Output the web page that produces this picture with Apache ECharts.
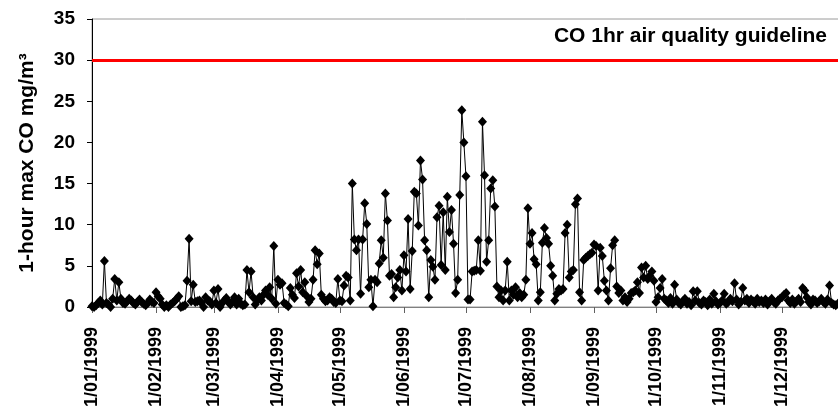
<!DOCTYPE html>
<html>
<head>
<meta charset="utf-8">
<script src="https://cdn.jsdelivr.net/npm/echarts@6/dist/echarts.min.js"></script>
<style>
html,body{margin:0;padding:0;background:#fff;}
#chart{width:838px;height:414px;}
</style>
</head>
<body>
<div id="chart"></div>
<script>
// Month lengths for 1999 and month-start tick labels
const monthDays = [31,28,31,30,31,30,31,31,30,31,30,31];
const tickLabels = ["1/01/1999","1/02/1999","1/03/1999","1/04/1999","1/05/1999","1/06/1999",
                    "1/07/1999","1/08/1999","1/09/1999","1/10/1999","1/11/1999","1/12/1999"];
const guideline = 30;
const guidelineLabel = "CO 1hr air quality guideline";
const yTitle = "1-hour max CO mg/m³";

// Daily 1-hour max CO (mg/m3), one array per month
const jan = [0.1,0.0,0.2,0.5,0.8,0.3,5.6,0.5,0.3,0.0,1.0,3.4,0.8,3.0,1.0,0.5,0.4,0.7,1.0,0.8,0.5,0.3,0.6,0.9,0.6,0.4,0.2,0.5,0.9,0.6,0.5];
const feb = [1.8,1.3,1.0,0.3,0.0,0.2,0.0,0.3,0.5,0.7,1.0,1.3,0.0,0.1,0.2,3.2,8.3,0.7,2.7,0.6,0.7,0.8,0.5,0.0,1.2,0.8,0.7,0.3];
const mar = [2.0,0.5,2.2,0.0,0.5,0.8,1.1,0.6,0.3,0.7,1.2,0.3,1.0,0.4,0.2,0.3,4.5,1.8,4.3,1.2,0.3,0.8,1.2,0.8,1.5,2.0,1.5,2.4,1.0,7.4,0.4];
const apr = [3.3,2.7,2.9,0.5,0.3,0.1,2.3,1.5,1.1,4.1,2.5,4.5,1.8,3.0,1.3,0.6,1.0,3.3,6.9,5.2,6.5,1.5,1.0,0.7,0.8,1.2,1.0,0.6,0.5,3.4];
const may = [0.8,0.7,2.6,3.8,3.6,0.8,15.0,8.2,6.9,8.2,1.6,8.2,12.6,10.1,2.4,3.3,0.1,3.3,3.0,5.3,8.1,6.0,13.8,10.5,3.8,4.0,1.2,2.4,3.6,4.5,2.0];
const jun = [6.3,4.3,10.7,2.2,6.8,14.0,13.8,9.9,17.8,15.5,8.1,6.9,1.2,5.7,4.9,3.3,10.9,12.3,5.1,11.5,4.5,13.4,9.1,11.8,7.7,1.7,3.3,13.6,23.9,20.0];
const jul = [15.9,0.9,0.9,4.3,4.4,4.5,8.1,4.4,22.5,16.0,5.5,8.1,14.4,15.4,12.2,2.5,1.2,2.0,0.8,2.0,5.5,0.8,2.0,1.5,2.4,1.2,1.7,1.2,1.5,3.3,12.0];
const aug = [7.7,9.0,5.8,5.2,0.8,1.8,7.8,9.6,8.4,7.7,5.0,3.8,0.8,1.6,2.2,2.0,2.2,9.0,10.0,3.6,4.3,4.5,12.5,13.2,1.8,0.8,5.7,6.0,6.2,6.4,6.6];
const sep = [7.6,7.4,2.0,7.2,6.2,3.2,2.0,0.8,4.7,7.5,8.1,2.5,1.7,2.0,0.8,1.2,0.6,1.0,1.7,1.8,2.0,3.0,1.7,4.8,3.6,5.0,3.4,3.8,4.3,3.2];
const oct = [0.6,1.2,2.3,3.4,1.0,0.8,0.5,1.1,0.4,2.7,0.9,0.5,0.3,0.7,1.0,0.4,0.6,0.2,1.9,0.8,1.9,0.5,0.3,0.8,0.6,0.2,0.9,0.4,1.6,0.7,0.3];
const nov = [0.5,0.8,1.6,0.4,0.6,1.0,0.7,2.9,0.9,0.3,0.6,2.3,0.8,1.0,0.5,0.9,0.7,0.4,1.0,0.6,0.8,0.5,0.9,0.3,0.7,1.0,0.6,0.4,0.8,1.0];
const dec = [1.2,1.5,1.7,0.8,0.5,0.9,0.4,0.7,1.0,0.6,2.3,2.0,1.2,0.6,0.3,0.9,0.8,0.5,0.7,1.0,0.6,0.4,0.9,2.6,0.5,0.3,0.2,0.4,0.3,0.5,0.2];

const months = [jan,feb,mar,apr,may,jun,jul,aug,sep,oct,nov,dec];
const values = [].concat(...months);

// day categories d/mm/1999
const categories = [];
monthDays.forEach((n, m) => {
  for (let d = 1; d <= n; d++) {
    categories.push(d + "/" + String(m + 1).padStart(2, "0") + "/1999");
  }
});
const tickSet = new Set(tickLabels);
const isTick = (idx, val) => tickSet.has(val !== undefined ? val : categories[idx]);

const chart = echarts.init(document.getElementById('chart'), null, {renderer: 'canvas'});
chart.setOption({
  animation: false,
  backgroundColor: '#ffffff',
  grid: {
    left: 92, right: -6, top: 19, bottom: 107,
    show: true, borderColor: '#9a9a9a', borderWidth: 1,
    containLabel: false, outerBoundsMode: 'none'
  },
  xAxis: {
    type: 'category',
    data: categories,
    boundaryGap: false,
    axisLine: {lineStyle: {color: '#808080', width: 1}},
    axisTick: {show: true, length: 6, interval: (i, v) => isTick(i, v), lineStyle: {color: '#606060'}},
    axisLabel: {
      interval: (i, v) => isTick(i, v),
      rotate: 90,
      margin: 20,
      fontFamily: 'Arial, "Liberation Sans", sans-serif',
      fontWeight: 'bold',
      fontSize: 18,
      color: '#000'
    },
    splitLine: {show: false}
  },
  yAxis: {
    type: 'value',
    min: 0, max: 35, interval: 5,
    name: yTitle,
    nameLocation: 'middle',
    nameGap: 54,
    nameTextStyle: {fontFamily: 'Arial, "Liberation Sans", sans-serif', fontWeight: 'bold', fontSize: 21, color: '#000'},
    axisLine: {show: true, lineStyle: {color: '#000', width: 1}},
    axisTick: {show: true, length: 5, lineStyle: {color: '#000'}},
    axisLabel: {
      margin: 17,
      fontFamily: 'Arial, "Liberation Sans", sans-serif',
      fontWeight: 'bold',
      fontSize: 19,
      color: '#000'
    },
    splitLine: {show: false}
  },
  series: [{
    type: 'line',
    data: values,
    symbol: 'diamond',
    symbolSize: [9, 10],
    showAllSymbol: true,
    itemStyle: {color: '#000'},
    lineStyle: {color: '#000', width: 1},
    clip: true,
    markLine: {
      silent: true,
      symbol: 'none',
      label: {show: false},
      lineStyle: {color: '#ff0000', width: 3, type: 'solid'},
      data: [{yAxis: guideline}]
    }
  }],
  graphic: [{
    type: 'text',
    right: 11,
    top: 26,
    style: {
      text: guidelineLabel,
      font: 'bold 21px Arial, "Liberation Sans", sans-serif',
      fill: '#000'
    }
  }]
});
</script>
</body>
</html>
